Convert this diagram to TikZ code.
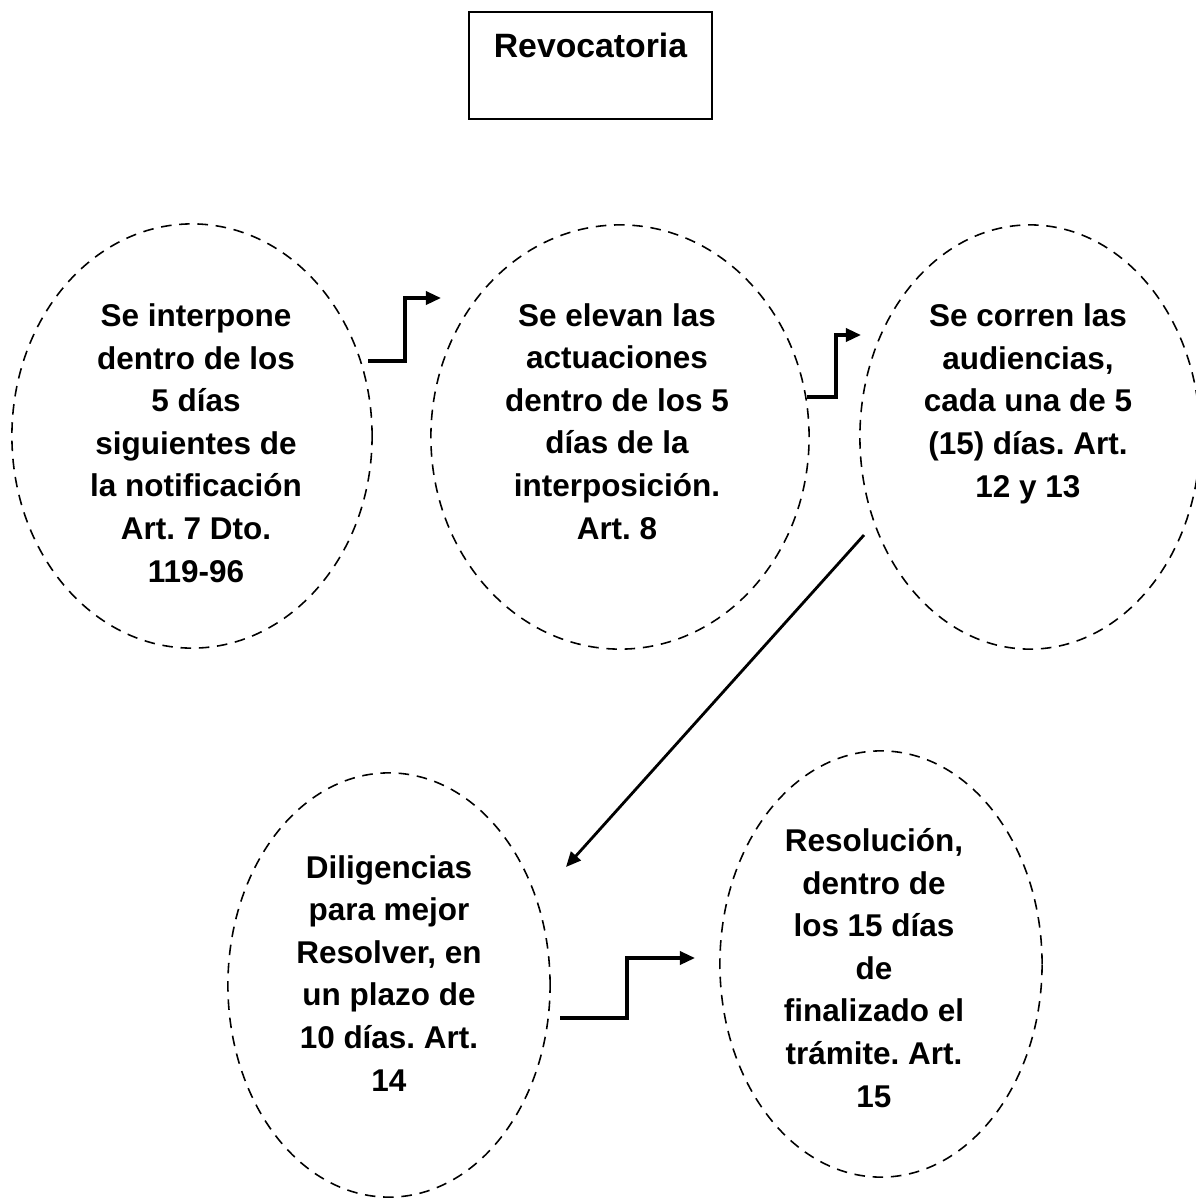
\documentclass[tikz,border=0pt]{standalone}
\usepackage{fontspec}
\setmainfont{Liberation Sans}
\frenchspacing
\usetikzlibrary{shapes.geometric,arrows.meta}
\tikzset{
  oval/.style={ellipse, draw, dash pattern=on 3pt off 2.2pt, line width=0.45pt, inner sep=0pt},
  txt/.style={align=center, font=\fontsize{8.95}{12.1}\selectfont\bfseries, inner sep=0pt, anchor=base},
  paso/.style={-{Triangle[length=0.15cm,width=0.13cm]}, line width=0.95pt},
}

\begin{document}
\begin{tikzpicture}[x=0.01cm, y=-0.01cm]
		\useasboundingbox (0,0) rectangle (1196,1199);
		\node[draw, line width=0.5pt, inner sep=0pt, minimum width=2.43cm, text height=0.45cm, text depth=0.62cm, anchor=base, font=\fontsize{9.6}{12}\selectfont\bfseries] (rev) at (590.5,57) {Revocatoria};
		%
		\node[oval, minimum width=3.6cm, minimum height=4.24cm] (e1) at (192,436) {};
		\node[oval, minimum width=3.78cm, minimum height=4.24cm] (e2) at (620,437) {};
		\node[oval, minimum width=3.4cm, minimum height=4.24cm] (e3) at (1030,437) {};
		\node[oval, minimum width=3.22cm, minimum height=4.24cm] (e4) at (389,985) {};
		\node[oval, minimum width=3.22cm, minimum height=4.26cm] (e5) at (881,964) {};
		%
		\node[txt] (t1) at (196,582) {Se interpone\\dentro de los\\5 días\\siguientes de\\la notificación\\Art. 7 Dto.\\119-96};
		\node[txt] (t2) at (617,539) {Se elevan las\\actuaciones\\dentro de los 5\\días de la\\interposición.\\Art. 8};
		\node[txt] (t3) at (1028,497) {Se corren las\\audiencias,\\cada una de 5\\(15) días. Art.\\12 y 13};
		\node[txt] (t4) at (389,1091) {Diligencias\\para mejor\\Resolver, en\\un plazo de\\10 días. Art.\\14};
		\node[txt] (t5) at (874,1107) {Resolución,\\dentro de\\los 15 días\\de\\finalizado el\\trámite. Art.\\15};
		%
		\coordinate (a1s) at (368,361);
		\coordinate (a1e) at (441,298);
		\coordinate (a2s) at (807,397);
		\coordinate (a2e) at (861,335);
		\coordinate (a3s) at (864,535);
		\coordinate (a3e) at (566,867);
		\coordinate (a4s) at (560,1018);
		\coordinate (a4e) at (695,958);
		%
		\draw[paso] (a1s) -- ++(37,0) |- (a1e);
		\draw[paso] (a2s) -- ++(29,0) |- (a2e);
		\draw[paso, line width=0.8pt] (a3s) -- (a3e);
		\draw[paso] (a4s) -- ++(67,0) |- (a4e);
	\end{tikzpicture}
\end{document}
